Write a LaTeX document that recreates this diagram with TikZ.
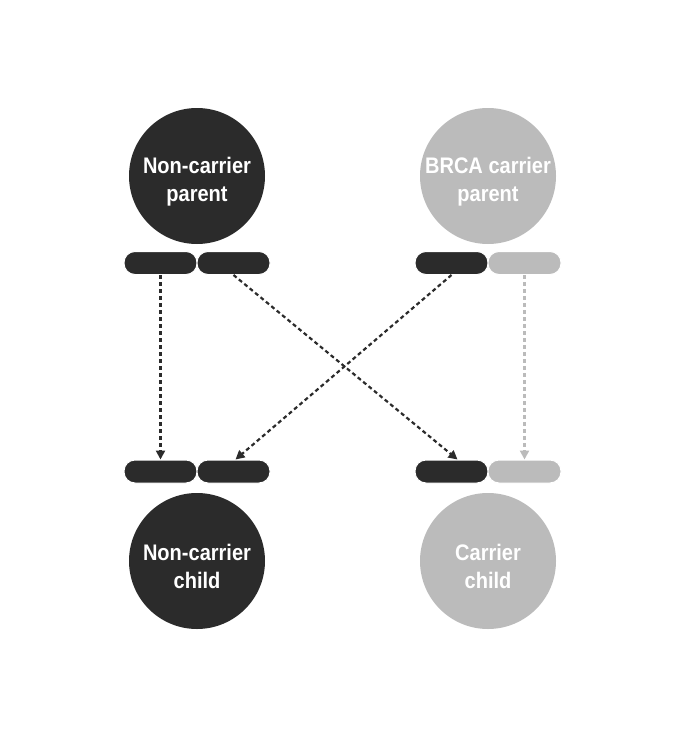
\documentclass[tikz,border=0pt]{standalone}
\usepackage{fontspec}
\setmainfont{Liberation Sans}[FakeStretch=0.89]
\usepackage{tikz}
\usetikzlibrary{arrows.meta,calc}
\definecolor{darkfill}{HTML}{2B2B2B}
\definecolor{lightfill}{HTML}{BBBBBB}

\begin{document}
\begin{tikzpicture}[x=1pt, y=-1pt, >={Triangle[length=9pt,width=9pt]},
    person/.style={circle, minimum size=136pt, inner sep=0pt},
    persontext/.style={text=white, yshift=-5.5pt, inner sep=0pt,
        font=\fontsize{22.5}{28}\selectfont\bfseries, align=center},
    allele/.style={rectangle, rounded corners=11pt, minimum width=73pt,
        minimum height=23pt, inner sep=0pt, draw=white, line width=1pt},
    inherit/.style={->, line width=2.2pt, dash pattern=on 4pt off 3pt}]
    \useasboundingbox (0,0) rectangle (687,736);

    % parents
    \node[person, fill=darkfill,
        label={[persontext]center:Non-carrier\\parent}] (ncparent) at (197,176) {};
    \node[person, fill=lightfill,
        label={[persontext]center:BRCA carrier\\parent}] (cparent) at (488,176) {};
    \node[allele, fill=darkfill] (pa1) at (160.5,263) {};
    \node[allele, fill=darkfill] (pa2) at (233.5,263) {};
    \node[allele, fill=darkfill] (pb1) at (451.5,263) {};
    \node[allele, fill=lightfill] (pb2) at (524.5,263) {};

    % children
    \node[person, fill=darkfill,
        label={[persontext]center:Non-carrier\\child}] (ncchild) at (197,561) {};
    \node[person, fill=lightfill,
        label={[persontext]center:Carrier\\child}] (cchild) at (488,561) {};
    \node[allele, fill=darkfill] (ca1) at (160.5,471.5) {};
    \node[allele, fill=darkfill] (ca2) at (233.5,471.5) {};
    \node[allele, fill=darkfill] (cb1) at (451.5,471.5) {};
    \node[allele, fill=lightfill] (cb2) at (524.5,471.5) {};

    % inheritance
    \draw[inherit, darkfill] (pa1.south) -- (ca1.north);
    \draw[inherit, darkfill] (pa2.south) -- ($(cb1.north)+(6,0)$);
    \draw[inherit, darkfill] (pb1.south) -- ($(ca2.north)+(2,0)$);
    \draw[inherit, lightfill] (pb2.south) -- (cb2.north);
\end{tikzpicture}
\end{document}
